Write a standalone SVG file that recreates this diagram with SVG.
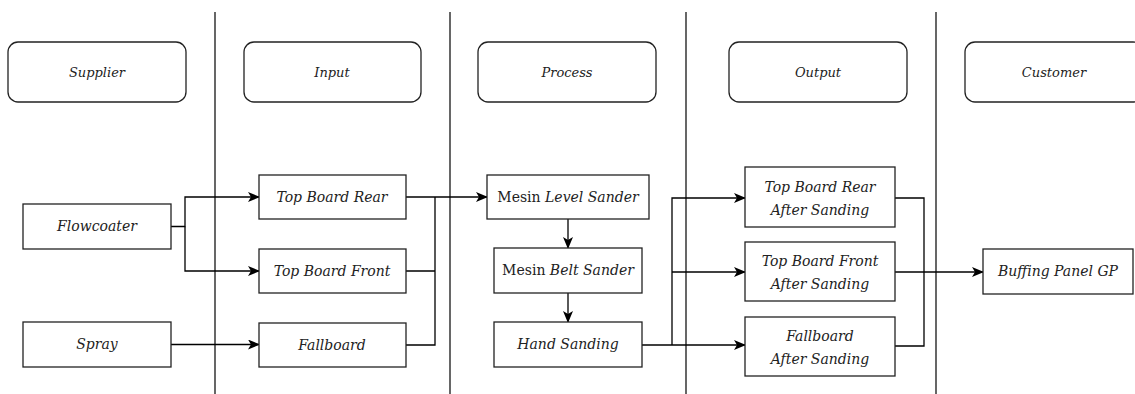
<svg xmlns="http://www.w3.org/2000/svg" width="1135" height="394" viewBox="0 0 1135 394">
  <style>
    .lane { stroke: #000; stroke-width: 1.2; }
    .hdr { fill: #fff; stroke: #222; stroke-width: 1.3; }
    .box { fill: #fff; stroke: #222; stroke-width: 1.3; }
    .t { font-family: "DejaVu Serif", "Liberation Serif", serif; font-size: 14px; font-style: italic; fill: #222; text-anchor: middle; }
    .ht { font-family: "DejaVu Serif", "Liberation Serif", serif; font-size: 13px; font-style: italic; fill: #222; text-anchor: middle; }
    .up { font-style: normal; }
    .wire { fill: none; stroke: #000; stroke-width: 1.3; }
  </style>
  <defs>
    <marker id="arrow" viewBox="0 0 12 10" refX="11" refY="5" markerWidth="12" markerHeight="10" markerUnits="userSpaceOnUse" orient="auto">
      <path d="M0,0 L12,5 L0,10 L3,5 Z" fill="#000"/>
    </marker>
  </defs>
  <rect width="1135" height="394" fill="#fff"/>

  <!-- swimlane separators -->
  <g id="lanes">
    <line class="lane" x1="215" y1="12" x2="215" y2="394"/>
    <line class="lane" x1="450" y1="12" x2="450" y2="394"/>
    <line class="lane" x1="686" y1="12" x2="686" y2="394"/>
    <line class="lane" x1="936" y1="12" x2="936" y2="394"/>
  </g>

  <!-- column headers -->
  <g id="hdr-supplier"><rect class="hdr" x="8" y="42" width="178" height="60" rx="10"/><text class="ht" x="97" y="77">Supplier</text></g>
  <g id="hdr-input"><rect class="hdr" x="244" y="42" width="177" height="60" rx="10"/><text class="ht" x="332" y="77">Input</text></g>
  <g id="hdr-process"><rect class="hdr" x="478" y="42" width="178" height="60" rx="10"/><text class="ht" x="567" y="77">Process</text></g>
  <g id="hdr-output"><rect class="hdr" x="729" y="42" width="178" height="60" rx="10"/><text class="ht" x="818" y="77">Output</text></g>
  <g id="hdr-customer"><rect class="hdr" x="965" y="42" width="178" height="60" rx="10"/><text class="ht" x="1054" y="77">Customer</text></g>

  <!-- connectors -->
  <g id="connectors">
    <path class="wire" d="M171,226.5 H185 V197 H259" marker-end="url(#arrow)"/>
    <path class="wire" d="M185,226.5 V271 H259" marker-end="url(#arrow)"/>
    <path class="wire" d="M171,344.5 H259" marker-end="url(#arrow)"/>
    <path class="wire" d="M406,197 H487" marker-end="url(#arrow)"/>
    <path class="wire" d="M406,271 H435 M406,345 H435 V197"/>
    <path class="wire" d="M568,219 V248" marker-end="url(#arrow)"/>
    <path class="wire" d="M568,293 V322" marker-end="url(#arrow)"/>
    <path class="wire" d="M642,345 H745" marker-end="url(#arrow)"/>
    <path class="wire" d="M672,345 V198 H745" marker-end="url(#arrow)"/>
    <path class="wire" d="M672,272 H745" marker-end="url(#arrow)"/>
    <path class="wire" d="M895,198 H924 V346 H895"/>
    <path class="wire" d="M895,272 H983" marker-end="url(#arrow)"/>
  </g>

  <!-- supplier -->
  <g id="flowcoater"><rect class="box" x="23" y="204" width="148" height="45"/><text class="t" x="97" y="231">Flowcoater</text></g>
  <g id="spray"><rect class="box" x="23" y="322" width="148" height="45"/><text class="t" x="97" y="349">Spray</text></g>

  <!-- input -->
  <g id="top-board-rear"><rect class="box" x="259" y="175" width="147" height="44"/><text class="t" x="332" y="202">Top Board Rear</text></g>
  <g id="top-board-front"><rect class="box" x="259" y="249" width="147" height="44"/><text class="t" x="332" y="276">Top Board Front</text></g>
  <g id="fallboard"><rect class="box" x="259" y="323" width="147" height="44"/><text class="t" x="332" y="350">Fallboard</text></g>

  <!-- process -->
  <g id="level-sander"><rect class="box" x="487" y="175" width="162" height="44"/><text class="t" x="568" y="202"><tspan class="up">Mesin </tspan>Level Sander</text></g>
  <g id="belt-sander"><rect class="box" x="494" y="248" width="148" height="45"/><text class="t" x="568" y="275"><tspan class="up">Mesin </tspan>Belt Sander</text></g>
  <g id="hand-sanding"><rect class="box" x="494" y="322" width="148" height="45"/><text class="t" x="568" y="349">Hand Sanding</text></g>

  <!-- output -->
  <g id="out-rear"><rect class="box" x="745" y="167" width="150" height="60"/><text class="t" x="820" y="192">Top Board Rear</text><text class="t" x="820" y="215">After Sanding</text></g>
  <g id="out-front"><rect class="box" x="745" y="242" width="150" height="59"/><text class="t" x="820" y="266">Top Board Front</text><text class="t" x="820" y="289">After Sanding</text></g>
  <g id="out-fallboard"><rect class="box" x="745" y="317" width="150" height="59"/><text class="t" x="820" y="341">Fallboard</text><text class="t" x="820" y="364">After Sanding</text></g>

  <!-- customer -->
  <g id="buffing"><rect class="box" x="983" y="249" width="150" height="45"/><text class="t" x="1058" y="276">Buffing Panel GP</text></g>
</svg>
